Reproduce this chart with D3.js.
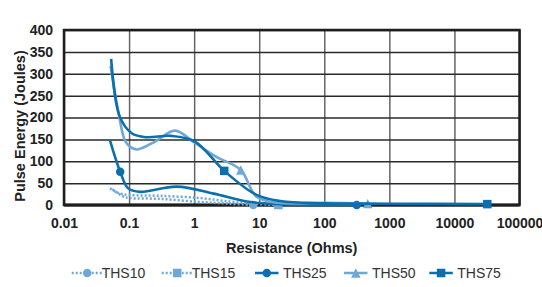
<html>
    <head>
        <script src="https://d3js.org/d3.v7.min.js"></script>
        <style>
            body { margin: 0; background: #fff; }
            text { font-family: "Liberation Sans", Arial, sans-serif; }
            .tick text { font-size: 14px; font-weight: bold; fill: #222; }
            .gridlines .domain { stroke: none; }
            .xgrid line { stroke: #666; stroke-width: 1.5; }
            .ygrid line { stroke: #2a2a2a; stroke-width: 1.5; }
            .axis .domain { stroke: none; }
            .axis line { stroke: none; }
            .title { font-size: 14.5px; font-weight: bold; fill: #222; }
            .legend text { font-size: 14px; fill: #333; }
        </style>
    </head>
    <body>
        <svg height="287" width="542" id="chart"></svg>

        <script>
            // data: resistance (ohms) and pulse energy (joules)
            const xTicks = [0.01, 0.1, 1, 10, 100, 1000, 10000, 100000];
            const xTickLabels = ["0.01", "0.1", "1", "10", "100", "1000", "10000", "100000"];
            const yTicks = [0, 50, 100, 150, 200, 250, 300, 350, 400];

            const seriesNames = ["THS10", "THS15", "THS25", "THS50", "THS75"];

            const ths10R = [0.055, 0.08, 0.1, 0.3, 1.2, 3.5, 8.1];
            const ths10E = [36, 20, 16, 14, 7, 3, 0];
            const ths10Markers = [6];

            const ths15R = [0.051, 0.07, 0.1, 0.3, 1.2, 3.5, 8, 19.7];
            const ths15E = [38, 27, 23, 21, 16, 8, 3, 0];
            const ths15Markers = [7];

            const ths25R = [0.051, 0.073, 0.097, 0.147, 0.54, 2.0, 6.4, 20, 315];
            const ths25E = [147, 76, 38, 30, 42, 26, 8, 2, 0];
            const ths25Markers = [1, 8];

            const ths50R = [0.052, 0.07, 0.09, 0.13, 0.25, 0.51, 1.0, 2.2, 5.2, 9.1, 20, 100, 465];
            const ths50E = [318, 205, 143, 127, 145, 170, 143, 110, 80, 19, 5, 5, 3];
            const ths50Markers = [8, 12];

            const ths75R = [0.053, 0.072, 0.11, 0.18, 0.45, 1.03, 2.9, 9.1, 21, 100, 1000, 32000];
            const ths75E = [334, 202, 164, 155, 158, 145, 78, 23, 9, 4, 3, 2];
            const ths75Markers = [6, 11];

            const svg = d3.select("#chart");
            const margin = { top: 30, left: 64, right: 22.5, bottom: 82 };
            const width = 542, height = 287;
            const chartWidth = width - margin.left - margin.right;
            const chartHeight = height - margin.top - margin.bottom;

            const xScale = d3.scaleLog().domain([0.01, 100000]).range([0, chartWidth]);
            const yScale = d3.scaleLinear().domain([0, 400]).range([chartHeight, 0]);

            const dark = "#0a6fae";
            const light = "#6fa8d6";

            const series = [
                { name: "THS10", r: ths10R, e: ths10E, m: ths10Markers, color: light, dash: "2,2", shape: "circle" },
                { name: "THS15", r: ths15R, e: ths15E, m: ths15Markers, color: light, dash: "2,2", shape: "square" },
                { name: "THS25", r: ths25R, e: ths25E, m: ths25Markers, color: dark, dash: null, shape: "circle" },
                { name: "THS50", r: ths50R, e: ths50E, m: ths50Markers, color: light, dash: null, shape: "triangle" },
                { name: "THS75", r: ths75R, e: ths75E, m: ths75Markers, color: dark, dash: null, shape: "square" }
            ];

            const plot = svg.append("g")
                .attr("transform", `translate(${margin.left},${margin.top})`);

            // gridlines
            plot.append("g")
                .attr("class", "gridlines xgrid")
                .attr("transform", `translate(0,${chartHeight})`)
                .call(d3.axisBottom(xScale).tickValues(xTicks).tickSize(-chartHeight).tickFormat(""));

            plot.append("g")
                .attr("class", "gridlines ygrid")
                .call(d3.axisLeft(yScale).tickValues(yTicks).tickSize(-chartWidth).tickFormat(""));

            plot.append("rect")
                .attr("x", 0).attr("y", 0)
                .attr("width", chartWidth).attr("height", chartHeight)
                .attr("fill", "none")
                .attr("stroke", "#1e1e1e")
                .attr("stroke-width", 2.5);

            plot.append("line")
                .attr("x1", 0).attr("x2", chartWidth)
                .attr("y1", chartHeight).attr("y2", chartHeight)
                .attr("stroke", "#1e1e1e").attr("stroke-width", 3);

            // axes labels
            plot.append("g")
                .attr("class", "axis")
                .attr("transform", `translate(0,${chartHeight})`)
                .call(d3.axisBottom(xScale).tickValues(xTicks).tickSize(0).tickPadding(13)
                    .tickFormat((d, i) => xTickLabels[i]));

            plot.append("g")
                .attr("class", "axis")
                .call(d3.axisLeft(yScale).tickValues(yTicks).tickSize(0).tickPadding(11));

            svg.append("text")
                .attr("class", "title")
                .attr("x", margin.left + chartWidth / 2)
                .attr("y", 253)
                .attr("text-anchor", "middle")
                .text("Resistance (Ohms)");

            svg.append("text")
                .attr("class", "title")
                .attr("transform", "translate(24.5,126) rotate(-90)")
                .attr("text-anchor", "middle")
                .text("Pulse Energy (Joules)");

            const line = d3.line()
                .x(d => xScale(d[0]))
                .y(d => yScale(d[1]))
                .curve(d3.curveCatmullRom.alpha(0.5));

            function drawMarker(g, shape, x, y, color, size) {
                if (shape === "circle") {
                    g.append("circle").attr("cx", x).attr("cy", y).attr("r", size / 2).attr("fill", color);
                } else if (shape === "square") {
                    g.append("rect").attr("x", x - size / 2).attr("y", y - size / 2)
                        .attr("width", size).attr("height", size).attr("fill", color);
                } else {
                    const h = size * 1.1;
                    g.append("path")
                        .attr("d", `M ${x} ${y - h / 2} L ${x + size / 2 + 0.5} ${y + h / 2} L ${x - size / 2 - 0.5} ${y + h / 2} Z`)
                        .attr("fill", color);
                }
            }

            series.forEach(s => {
                const pts = s.r.map((r, i) => [r, s.e[i]]);
                const g = plot.append("g");
                g.append("path")
                    .attr("d", line(pts))
                    .attr("fill", "none")
                    .attr("stroke", s.color)
                    .attr("stroke-width", s.dash ? 2.5 : 2.6)
                    .attr("stroke-dasharray", s.dash);
                s.m.forEach(i => {
                    drawMarker(g, s.shape, xScale(pts[i][0]), yScale(pts[i][1]), s.color, 8.5);
                });
            });

            // legend
            const legendX = [71.7, 161.7, 255, 344, 429.3];
            const legendY = 273;
            const legend = svg.append("g").attr("class", "legend");
            series.forEach((s, i) => {
                const x0 = legendX[i];
                const len = s.dash ? 30 : 23.5;
                legend.append("line")
                    .attr("x1", x0).attr("x2", x0 + len)
                    .attr("y1", legendY).attr("y2", legendY)
                    .attr("stroke", s.color).attr("stroke-width", 2.5)
                    .attr("stroke-dasharray", s.dash);
                drawMarker(legend, s.shape, x0 + (s.dash ? 15.5 : 11.8), legendY, s.color, 8.5);
                legend.append("text")
                    .attr("x", x0 + len + (s.dash ? 0 : 4.5))
                    .attr("y", legendY + 5)
                    .text(s.name);
            });
        </script>
    </body>
</html>
